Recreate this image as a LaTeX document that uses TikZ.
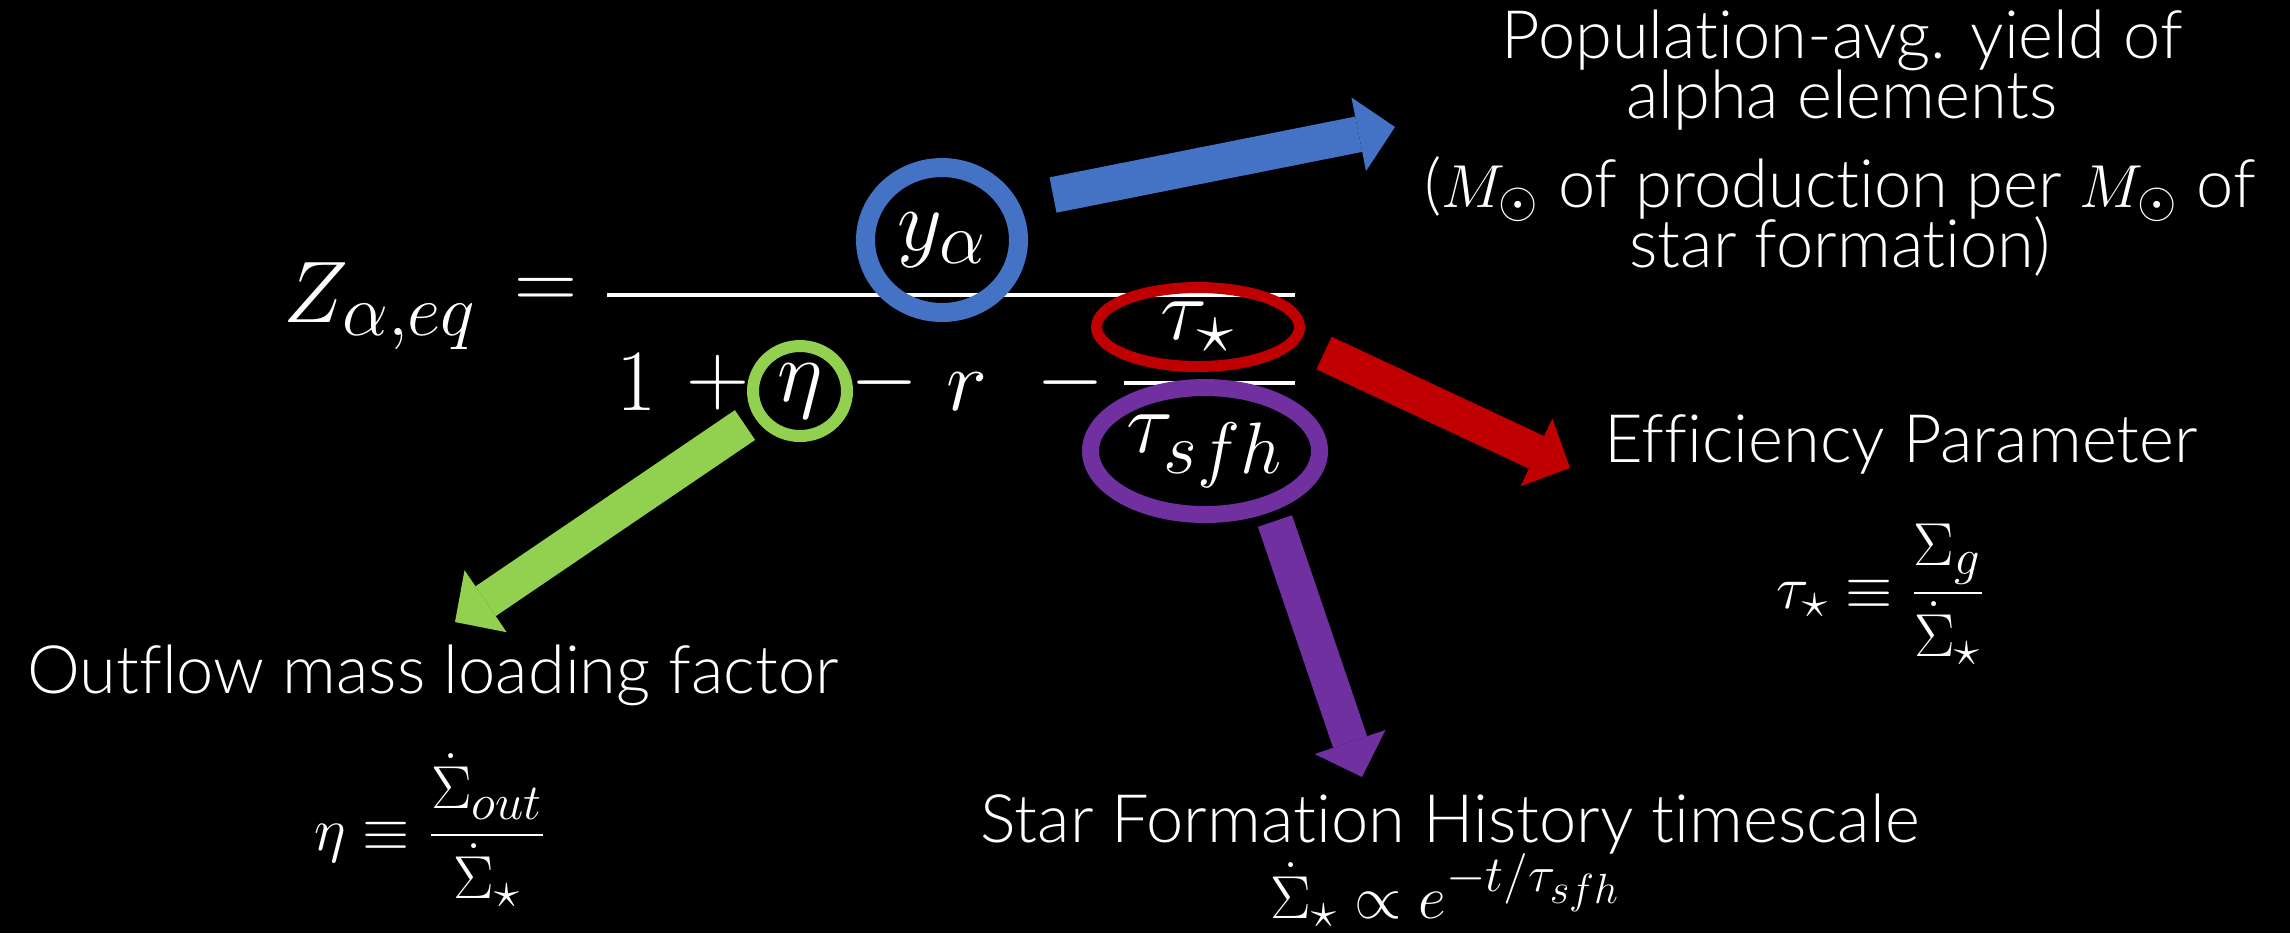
\documentclass[tikz,border=0pt]{standalone}
\usepackage[no-math]{fontspec}
\setmainfont[Ligatures=NoCommon]{Lato Light}
\usepackage{amsmath}
\usetikzlibrary{shapes.geometric,arrows.meta,positioning,calc}
\definecolor{ringblue}{HTML}{4472C4}
\definecolor{ringred}{HTML}{C00000}
\definecolor{ringgreen}{HTML}{92D050}
\definecolor{ringpurple}{HTML}{7030A0}
\DeclareMathSizes{27}{27}{21}{17}
\DeclareMathSizes{19}{19}{15}{12}
\newcommand{\eqsize}{\fontsize{27}{32}\selectfont}
\newcommand{\lblsize}{\fontsize{19}{16.8}\selectfont\lineskiplimit=-20pt}

\begin{document}
\begin{tikzpicture}[
    x=0.1mm, y=-0.1mm,
    every node/.style={text=white},
    eq/.style={font=\eqsize,inner sep=0pt},
    ring/.style 2 args={ellipse,draw=#1,line width=#2,inner sep=0pt,font=\eqsize},
    lbl/.style={font=\lblsize,align=center,inner sep=0pt,anchor=base},
    defn/.style={font=\fontsize{19}{23}\selectfont,inner sep=0pt,anchor=base},
    arr/.style={draw=#1,line width=3.6mm,-{Triangle[length=3.7mm,width=7.5mm,line width=0pt]}},
    bar/.style={white,line width=0.4mm},
  ]
    \fill[black] (0,0) rectangle (2290,933);
    \useasboundingbox (0,0) rectangle (2290,933);

    % the equilibrium metallicity
    \node[eq,anchor=base west] (zeq) at (283,322) {$Z_{\alpha,eq}$};
    \node[eq] (eqsign) at (546,294) {$=$};
    \draw[bar] (607,295) -- (1295,295);
    \node[ring={ringblue}{1.9mm},minimum width=15.3mm,minimum height=14.5mm] (ya) at (942,240) {$y_\alpha$};
    \node[eq,anchor=base west] (one) at (616,410) {$1$};
    \node[eq] (plus) at (718,383) {$+$};
    \node[ring={ringgreen}{1.2mm},minimum width=9.4mm,minimum height=9mm] (eta) at (800,391) {$\eta$};
    \node[eq] (minusA) at (884,383) {$-$};
    \node[eq,anchor=base west] (rfrac) at (946,410) {$r$};
    \node[eq] (minusB) at (1070,383) {$-$};
    \draw[bar] (1124,383) -- (1295,383);
    \node[ring={ringred}{1.1mm},minimum width=20.3mm,minimum height=7.9mm] (tstar) at (1198,327) {$\tau_\star$};
    \node[ring={ringpurple}{1.7mm},minimum width=22.9mm,minimum height=12.7mm] (tsfh) at (1205,451) {$\tau_{sfh}$};

    % labels
    \node[lbl] (yieldA) at (1842,118) {Population-avg. yield of\\alpha elements};
    \node[lbl] (yieldB) at (1840,267) {($M_\odot$ of production per $M_\odot$ of\\star formation)};
    \node[lbl] (effic) at (1901,462) {Efficiency Parameter};
    \node[defn] (tauDef) at (1881,608) {$\displaystyle\tau_\star\equiv\frac{\Sigma_g}{\dot\Sigma_\star}$};
    \node[lbl] (sfhLbl) at (1450,842) {Star Formation History timescale};
    \node[defn] (sfhDef) at (1446,918) {$\dot\Sigma_\star\propto e^{-t/\tau_{sfh}}$};
    \node[lbl] (outLbl) at (433,693) {Outflow mass loading factor};
    \node[defn] (etaDef) at (431,850) {$\displaystyle\eta\equiv\frac{\dot\Sigma_{out}}{\dot\Sigma_\star}$};

    % arrow ends
    \coordinate (ya-tail) at (1053,195);
    \coordinate (yield-tip) at (1395,127);
    \coordinate (tstar-tail) at (1324,353);
    \coordinate (effic-tip) at (1570,468);
    \coordinate (tsfh-tail) at (1275,521);
    \coordinate (sfh-tip) at (1362,777);
    \coordinate (eta-tail) at (745,425);
    \coordinate (out-tip) at (455,622);

    \draw[arr=ringblue] (ya-tail) -- (yield-tip);
    \draw[arr=ringred] (tstar-tail) -- (effic-tip);
    \draw[arr=ringpurple] (tsfh-tail) -- (sfh-tip);
    \draw[arr=ringgreen] (eta-tail) -- (out-tip);
  \end{tikzpicture}
\end{document}
